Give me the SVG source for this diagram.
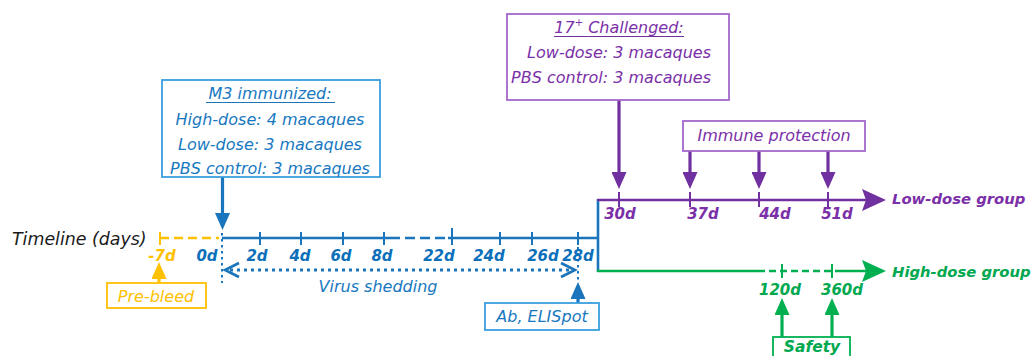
<svg xmlns="http://www.w3.org/2000/svg" width="1033" height="356" viewBox="0 0 1033 356">
<style>
  text { font-family: "DejaVu Sans", "Liberation Sans", sans-serif; font-style: italic; }
  .t16 { font-size: 16px; }
  .lbl { font-size: 15px; font-weight: bold; }
  .grp { font-size: 14.8px; font-weight: bold; }
  .mid { text-anchor: middle; }
  .end { text-anchor: end; }
  .cb { fill: #1878c0; }
  .cl { fill: #0b6fba; }
  .cp { fill: #7b2fa8; }
  .cg { fill: #00a84f; }
  .cy { fill: #ffc000; }
  .bx { fill: #ffffff; stroke-width: 1.8; }
  .sb { stroke: #3a9ede; }
  .sp { stroke: #a468cc; }
  .sg { stroke: #00b050; }
  .sy { stroke: #ffc000; }
  .ln { fill: none; stroke-width: 2.6; }
  .lb { stroke: #1a75bc; }
  .lp { stroke: #7030a0; }
  .lg { stroke: #00b050; }
  .ly { stroke: #ffc000; }
  .tk { fill: none; stroke-width: 2; }
  .ar { fill: none; stroke-width: 3.2; }
  .dot { stroke-dasharray: 2.5 3.5; }
  .ul { fill: none; stroke-width: 1.2; }
</style>
<defs>
  <marker id="hB" viewBox="0 0 17 15" refX="13" refY="7.5" markerWidth="17" markerHeight="15" markerUnits="userSpaceOnUse" orient="auto"><path d="M0,0 L17,7.5 L0,15 z" fill="#1a75bc"/></marker>
  <marker id="hP" viewBox="0 0 17 15" refX="13" refY="7.5" markerWidth="17" markerHeight="15" markerUnits="userSpaceOnUse" orient="auto"><path d="M0,0 L17,7.5 L0,15 z" fill="#7030a0"/></marker>
  <marker id="hG" viewBox="0 0 17 15" refX="13" refY="7.5" markerWidth="17" markerHeight="15" markerUnits="userSpaceOnUse" orient="auto"><path d="M0,0 L17,7.5 L0,15 z" fill="#00b050"/></marker>
  <marker id="hY" viewBox="0 0 17 15" refX="13" refY="7.5" markerWidth="17" markerHeight="15" markerUnits="userSpaceOnUse" orient="auto"><path d="M0,0 L17,7.5 L0,15 z" fill="#ffc000"/></marker>
  <marker id="bP" viewBox="0 0 24 22" refX="20" refY="11" markerWidth="24" markerHeight="22" markerUnits="userSpaceOnUse" orient="auto"><path d="M0,0 L24,11 L0,22 L4,11 z" fill="#7030a0"/></marker>
  <marker id="bG" viewBox="0 0 24 22" refX="20" refY="11" markerWidth="24" markerHeight="22" markerUnits="userSpaceOnUse" orient="auto"><path d="M0,0 L24,11 L0,22 L4,11 z" fill="#00b050"/></marker>
</defs>
<rect x="0" y="0" width="1033" height="356" fill="#ffffff"/>

<g id="connectors">
  <!-- gold pre-bleed segment -->
  <path class="ln ly" d="M160,238 H219" stroke-dasharray="9 5"/>
  <path class="tk ly" d="M160,232 V245"/>
  <path class="ar ly" d="M159,283 V266" marker-end="url(#hY)"/>

  <!-- blue timeline -->
  <path class="ln lb" d="M222,238 H390"/>
  <path class="ln lb" d="M390,238 H448" stroke-dasharray="10 5"/>
  <path class="ln lb" d="M448,238 H598 M598,199 V272"/>
  <path class="tk lb" d="M260,232 V245 M301,232 V245 M343,232 V245 M384,232 V245 M452,228 V245 M500,232 V245 M532,232 V245 M578,232 V245"/>
  <path class="ar lb" d="M222.5,177 V226" marker-end="url(#hB)"/>
  <path class="tk lb dot" d="M222,233 V283" stroke-width="2.6"/>
  <path class="tk lb dot" d="M578,247 V280" stroke-width="2.6"/>
  <path class="lb" d="M230,270 H570" fill="none" stroke-width="3" stroke-dasharray="3 4"/>
  <path class="lb" d="M239,263 L225,270 L239,277 M561,263 L575,270 L561,277" fill="none" stroke-width="2.6"/>
  <path class="ar lb" d="M578,303 V286" marker-end="url(#hB)"/>

  <!-- purple low-dose branch -->
  <path class="ln lp" d="M597,200 H882" marker-end="url(#bP)"/>
  <path class="tk lp" d="M619,192 V207 M690,192 V207 M759,192 V207 M828,192 V207"/>
  <path class="ar lp" d="M619,100 V185" marker-end="url(#hP)"/>
  <path class="ar lp" d="M690,151 V185" marker-end="url(#hP)"/>
  <path class="ar lp" d="M759,151 V185" marker-end="url(#hP)"/>
  <path class="ar lp" d="M828,151 V185" marker-end="url(#hP)"/>

  <!-- green high-dose branch -->
  <path class="ln lg" d="M597,271 H758"/>
  <path class="ln lg" d="M758,271 H838" stroke-dasharray="7 4"/>
  <path class="ln lg" d="M838,271 H882" marker-end="url(#bG)"/>
  <path class="tk lg" d="M782,264 V278 M832,264 V278"/>
  <path class="ar lg" d="M782,337 V302" marker-end="url(#hG)"/>
  <path class="ar lg" d="M832,337 V302" marker-end="url(#hG)"/>
</g>

<g id="timeline-label">
  <text x="12" y="245" font-size="17.4" fill="#1a1a1a">Timeline (days)</text>
</g>

<g id="day-labels">
  <text class="lbl cy mid" x="162" y="261">-7d</text>
  <text class="lbl cl mid" x="207" y="261">0d</text>
  <text class="lbl cl mid" x="257" y="261">2d</text>
  <text class="lbl cl mid" x="300" y="261">4d</text>
  <text class="lbl cl mid" x="341" y="261">6d</text>
  <text class="lbl cl mid" x="382" y="261">8d</text>
  <text class="lbl cl mid" x="439" y="261">22d</text>
  <text class="lbl cl mid" x="489" y="261">24d</text>
  <text class="lbl cl mid" x="543" y="261">26d</text>
  <text class="lbl cl mid" x="578" y="261">28d</text>
  <text class="lbl cp mid" x="620" y="219">30d</text>
  <text class="lbl cp mid" x="703" y="219">37d</text>
  <text class="lbl cp mid" x="775" y="219">44d</text>
  <text class="lbl cp mid" x="837" y="219">51d</text>
  <text class="lbl cg mid" x="780" y="295">120d</text>
  <text class="lbl cg mid" x="842" y="295">360d</text>
</g>

<g id="low-dose-group">
  <text class="grp cp" x="892" y="204">Low-dose group</text>
</g>
<g id="high-dose-group">
  <text class="grp cg" x="892" y="277">High-dose group</text>
</g>

<g id="m3-immunized">
  <rect class="bx sb" x="162" y="80" width="218" height="97"/>
  <text class="t16 cb mid" x="270" y="99">M3 immunized:</text>
  <path class="ul lb" d="M206,102.5 H335"/>
  <text class="t16 cb mid" x="270" y="125">High-dose: 4 macaques</text>
  <text class="t16 cb mid" x="270" y="150">Low-dose: 3 macaques</text>
  <text class="t16 cb mid" x="270" y="174">PBS control: 3 macaques</text>
</g>

<g id="challenged">
  <rect class="bx sp" x="507" y="14" width="222" height="86"/>
  <text class="t16 cp mid" x="619" y="33">17<tspan font-size="10" dy="-7">+</tspan><tspan dy="7"> Challenged:</tspan></text>
  <path class="ul lp" d="M554,36.5 H684"/>
  <text class="t16 cp end" x="711" y="58">Low-dose: 3 macaques</text>
  <text class="t16 cp end" x="711" y="83">PBS control: 3 macaques</text>
</g>

<g id="immune-protection">
  <rect class="bx sp" x="683" y="121" width="182" height="30"/>
  <text class="t16 cp mid" x="774" y="141">Immune protection</text>
</g>

<g id="virus-shedding">
  <text class="t16 cb mid" x="378" y="292">Virus shedding</text>
</g>

<g id="pre-bleed">
  <rect class="bx sy" x="107" y="283" width="99" height="25"/>
  <text class="t16 cy mid" x="156" y="302">Pre-bleed</text>
</g>

<g id="ab-elispot">
  <rect class="bx sb" x="485" y="303" width="114" height="27"/>
  <text class="t16 cb mid" x="542" y="322">Ab, ELISpot</text>
</g>

<g id="safety">
  <rect class="bx sg" x="773" y="337" width="77" height="30"/>
  <text class="cg mid" x="812" y="352" font-size="15.5" font-weight="bold">Safety</text>
</g>
</svg>
